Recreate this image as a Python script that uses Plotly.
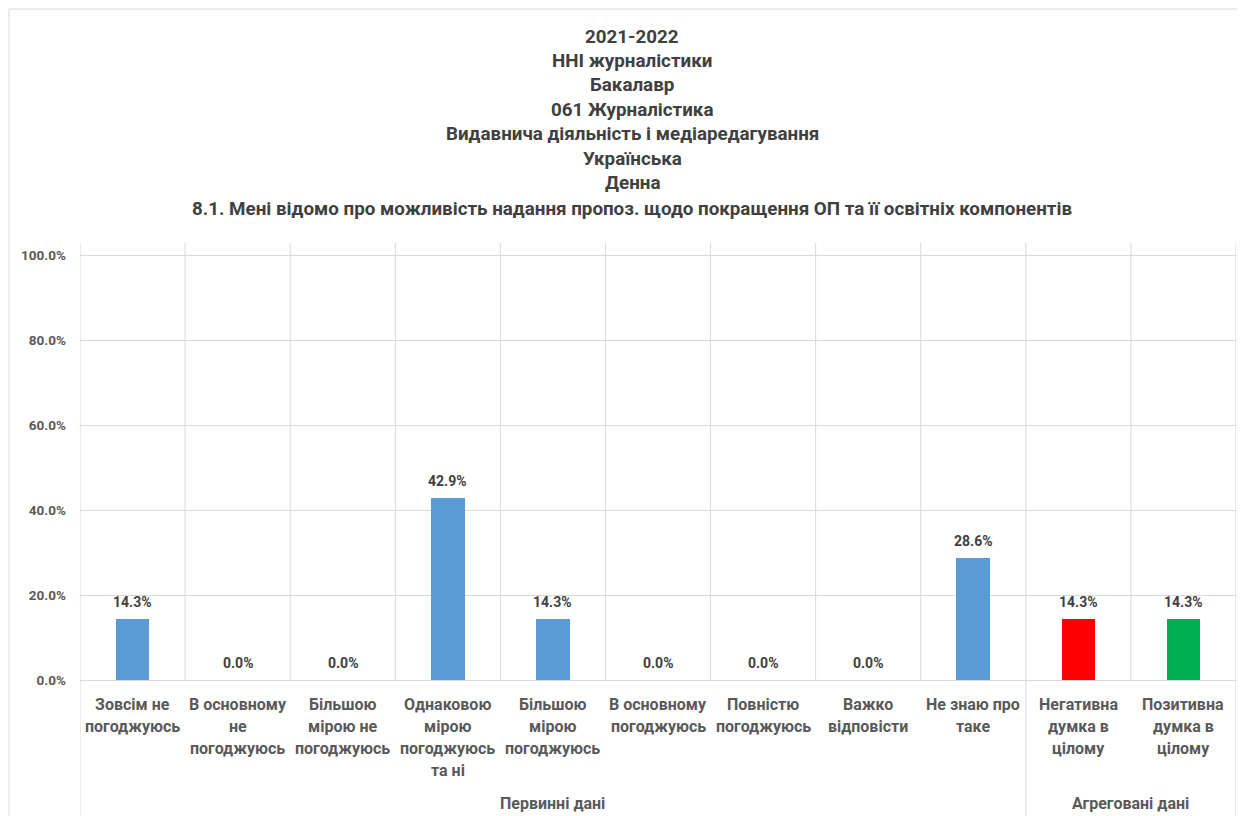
import plotly.graph_objects as go

# ---------------- data ----------------
title_lines = [
    "2021-2022",
    "ННІ журналістики",
    "Бакалавр",
    "061 Журналістика",
    "Видавнича діяльність і медіаредагування",
    "Українська",
    "Денна",
    "8.1. Мені відомо про можливість надання пропоз. щодо покращення ОП та її освітніх компонентів",
]
categories = [
    "Зовсім не<br>погоджуюсь",
    "В основному<br>не<br>погоджуюсь",
    "Більшою<br>мірою не<br>погоджуюсь",
    "Однаковою<br>мірою<br>погоджуюсь<br>та ні",
    "Більшою<br>мірою<br>погоджуюсь",
    "В основному<br>погоджуюсь",
    "Повністю<br>погоджуюсь",
    "Важко<br>відповісти",
    "Не знаю про<br>таке",
    "Негативна<br>думка в<br>цілому",
    "Позитивна<br>думка в<br>цілому",
]
values = [0.143, 0.0, 0.0, 0.429, 0.143, 0.0, 0.0, 0.0, 0.286, 0.143, 0.143]
bar_colors = ["#5B9BD5"] * 9 + ["#FF0000", "#00B050"]
groups = ["Первинні дані", "Агреговані дані"]
group_sizes = [9, 2]
y_ticks = [0, 0.2, 0.4, 0.6, 0.8, 1.0]

# ---------------- layout geometry (figure pixels) ----------------
W, H = 1245, 816
L, R, T, B = 72, 17, 235, 144
PW, PH = W - L - R, H - T - B
FONT = "Roboto"
GRID = "#D9D9D9"


def px_x(px):
    return (px - L) / PW


def px_y(py):
    return (H - B - py) / PH


n = len(categories)
xs = list(range(n))

fig = go.Figure()
fig.add_trace(go.Bar(
    x=xs, y=values, width=0.32,
    marker=dict(color=bar_colors, line=dict(width=0)),
    hoverinfo="skip",
))

shapes = []
# vertical gridlines at category boundaries
for i in range(n + 1):
    shapes.append(dict(type="line", xref="x", yref="paper", x0=i - 0.5, x1=i - 0.5,
                       y0=0, y1=1, line=dict(color=GRID, width=1), layer="below"))
# group separators extending through the label area
b = -0.5
for s in [0] + group_sizes:
    b += s
    shapes.append(dict(type="line", xref="x", yref="paper", x0=b, x1=b,
                       y0=0, y1=px_y(H + 5), line=dict(color=GRID, width=1)))
# outer chart border
shapes.append(dict(type="rect", xref="paper", yref="paper",
                   x0=px_x(1), x1=px_x(W + 20), y0=px_y(H + 20), y1=px_y(1),
                   line=dict(color="#D9D9D9", width=1), fillcolor="rgba(0,0,0,0)"))

annotations = []
title_y = [29, 53, 77, 102, 126, 151, 175, 201]
for txt, ty in zip(title_lines, title_y):
    annotations.append(dict(text=txt, xref="paper", yref="paper", x=px_x(624),
                            y=px_y(ty), showarrow=False, xanchor="center", yanchor="middle",
                            font=dict(family=FONT, size=18.8, color="#404040", weight="bold")))
# data labels
for i, v in enumerate(values):
    annotations.append(dict(text=f"{v*100:.1f}%", xref="x", yref="y", x=i, y=v,
                            showarrow=False, xanchor="center", yanchor="bottom", yshift=7,
                            font=dict(family=FONT, size=14, color="#404040", weight="bold")))
# category labels, line by line
line_y = [696, 718, 740, 762]
for i, lab in enumerate(categories):
    for j, part in enumerate(lab.split("<br>")):
        annotations.append(dict(text=part, xref="x", yref="paper", x=i, y=px_y(line_y[j]),
                                showarrow=False, xanchor="center", yanchor="middle",
                                font=dict(family=FONT, size=16, color="#595959", weight="bold")))
# group labels
start = 0
for g, s in zip(groups, group_sizes):
    annotations.append(dict(text=g, xref="x", yref="paper", x=start + (s - 1) / 2, y=px_y(795),
                            showarrow=False, xanchor="center", yanchor="middle",
                            font=dict(family=FONT, size=16, color="#595959", weight="bold")))
    start += s

fig.update_layout(
    width=W, height=H,
    margin=dict(l=L, r=R, t=T, b=B, autoexpand=False),
    paper_bgcolor="white", plot_bgcolor="white",
    showlegend=False, bargap=0,
    shapes=shapes, annotations=annotations,
    xaxis=dict(range=[-0.5, n - 0.5], showticklabels=False, showgrid=False, zeroline=False,
               showline=False, ticks="", fixedrange=True),
    yaxis=dict(range=[0, (H - B - T) / 425], tickvals=y_ticks, tickformat=".1%",
               showgrid=True, gridcolor=GRID, gridwidth=1, zeroline=True,
               zerolinecolor=GRID, zerolinewidth=1, showline=False, ticks="",
               ticklabelstandoff=13,
               tickfont=dict(family=FONT, size=13.5, color="#595959", weight="bold")),
)

fig.write_html("out.html")
